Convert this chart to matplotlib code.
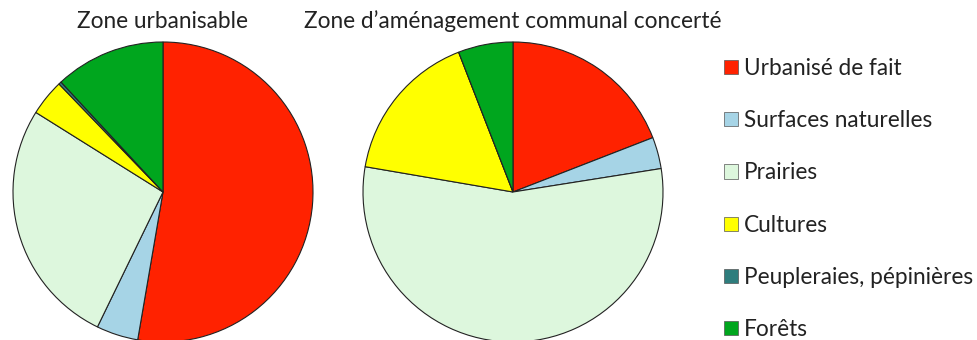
import matplotlib.pyplot as plt
from matplotlib.patches import Patch

plt.rcParams['font.family'] = ['Lato', 'DejaVu Sans']

# --- data ---
categories = ['Urbanisé de fait', 'Surfaces naturelles', 'Prairies',
              'Cultures', 'Peupleraies, pépinières', 'Forêts']
zone_urbanisable = [52.7, 4.5, 26.7, 3.9, 0.3, 11.9]
zone_zacc = [19.1, 3.4, 55.2, 16.4, 0.0, 5.9]
titles = ['Zone urbanisable', 'Zone d\u2019aménagement communal concerté']

colors = ['#FF2200', '#A6D4E6', '#DDF7DD', '#FFFF00', '#2E7D7D', '#00A61E']

W, H = 978, 340
fig = plt.figure(figsize=(W / 100, H / 100), dpi=100)

def pie_axes(cx, cy, r):
    # cx, cy in pixels from top-left, r radius in pixels
    pad = 1.03
    size = 2 * r * pad
    return fig.add_axes([(cx - r * pad) / W, (H - cy - r * pad) / H,
                         size / W, size / H])

for cx, values, title in [(163, zone_urbanisable, titles[0]),
                          (513, zone_zacc, titles[1])]:
    ax = pie_axes(cx, 192, 150)
    ax.pie(values, colors=colors, startangle=90, counterclock=False,
           radius=1.0, wedgeprops=dict(edgecolor='#222222', linewidth=0.8))
    ax.set_xlim(-1.03, 1.03)
    ax.set_ylim(-1.03, 1.03)
    ax.set_aspect('equal')
    ax.axis('off')
    fig.text(cx / W, 1 - 21 / H, title, ha='center', va='center',
             fontsize=16.3, color='#222222')

handles = [Patch(facecolor=c, edgecolor='#555555', linewidth=0.5) for c in colors]
fig.legend(handles, categories, loc='upper left',
           bbox_to_anchor=(724 / W, 1 - 58 / H), frameon=False,
           fontsize=16.3, handlelength=0.6, handleheight=0.6,
           handletextpad=0.3, labelspacing=1.38, borderaxespad=0,
           borderpad=0, labelcolor='#222222')

fig.savefig('out.png', dpi=100)
